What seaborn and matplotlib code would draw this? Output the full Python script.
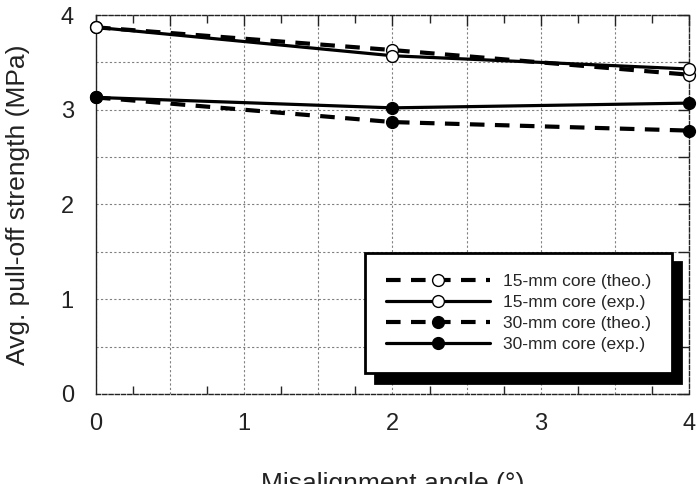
import numpy as np
import pandas as pd
import matplotlib
matplotlib.use("Agg")
import matplotlib.pyplot as plt
import matplotlib.ticker as mticker
import seaborn as sns

# Dados
angulos = [0, 2, 4]
core15_teo = [3.87, 3.63, 3.37]
core15_exp = [3.87, 3.57, 3.43]
core30_teo = [3.13, 2.87, 2.78]
core30_exp = [3.13, 3.02, 3.07]
rotulos = ["15-mm core (theo.)", "15-mm core (exp.)",
           "30-mm core (theo.)", "30-mm core (exp.)"]

sns.set_style("white")
plt.rcParams['font.family'] = ['Liberation Sans', 'DejaVu Sans']

fig = plt.figure(figsize=(6.98, 4.84), dpi=100)
ax = fig.add_axes([0.1375, 0.186, 0.8495, 0.783])

series = [core15_teo, core15_exp, core30_teo, core30_exp]
estilos = [
    dict(linestyle=(0, (3.5, 2.5)), linewidth=3.0, markerfacecolor='white'),
    dict(linestyle='-', linewidth=2.3, markerfacecolor='white'),
    dict(linestyle=(0, (3.5, 2.5)), linewidth=3.0, markerfacecolor='black'),
    dict(linestyle='-', linewidth=2.3, markerfacecolor='black'),
]
for valores, rot, est in zip(series, rotulos, estilos):
    df = pd.DataFrame({'x': angulos, 'y': valores})
    sns.lineplot(data=df, x='x', y='y', ax=ax, color='black', marker='o',
                 markersize=8.5, markeredgecolor='black', markeredgewidth=1.0,
                 label=rot, clip_on=False, zorder=3, **est)

ax.set_xlim(0, 4)
ax.set_ylim(0, 4)
ax.xaxis.set_major_locator(mticker.MultipleLocator(0.5))
ax.yaxis.set_major_locator(mticker.MultipleLocator(0.5))
ax.xaxis.set_minor_locator(mticker.MultipleLocator(0.25))
fmt = mticker.FuncFormatter(lambda v, p: f"{int(v)}" if abs(v - round(v)) < 1e-6 else "")
ax.xaxis.set_major_formatter(fmt)
ax.yaxis.set_major_formatter(fmt)

ax.grid(True, which='major', linestyle=(0, (2, 2)), color='#808080', linewidth=0.8)
ax.tick_params(which='major', direction='in', length=8, width=1, top=True, right=True,
               labelsize=17, color='#222222', labelcolor='#222222')
ax.tick_params(axis='x', which='major', pad=14)
ax.tick_params(axis='y', which='major', pad=16)
ax.tick_params(which='minor', direction='in', length=6, width=1, top=True, bottom=True)

for lado, sp in ax.spines.items():
    sp.set_color('#222222')
    sp.set_linewidth(1.0)
    if lado != 'left':
        sp.set_linestyle((0, (3, 1.5)))

ax.set_xlabel('Misalignment angle (°)', fontsize=19, labelpad=26, color='#222222')
ax.set_ylabel('Avg. pull-off strength (MPa)', fontsize=19, labelpad=22, color='#222222')

leg = ax.legend(loc='lower right', bbox_to_anchor=(0.971, 0.055), fontsize=12.5,
                handlelength=6, handletextpad=0.7, labelspacing=0.35,
                borderpad=1.2, borderaxespad=0, fancybox=False, frameon=True,
                shadow={'ox': 7, 'oy': -7, 'color': 'black', 'alpha': 1})
leg.get_frame().set_edgecolor('black')
leg.get_frame().set_linewidth(2)
leg.get_frame().set_facecolor('white')
leg.get_frame().set_alpha(1)

fig.savefig('out.png', dpi=100)
